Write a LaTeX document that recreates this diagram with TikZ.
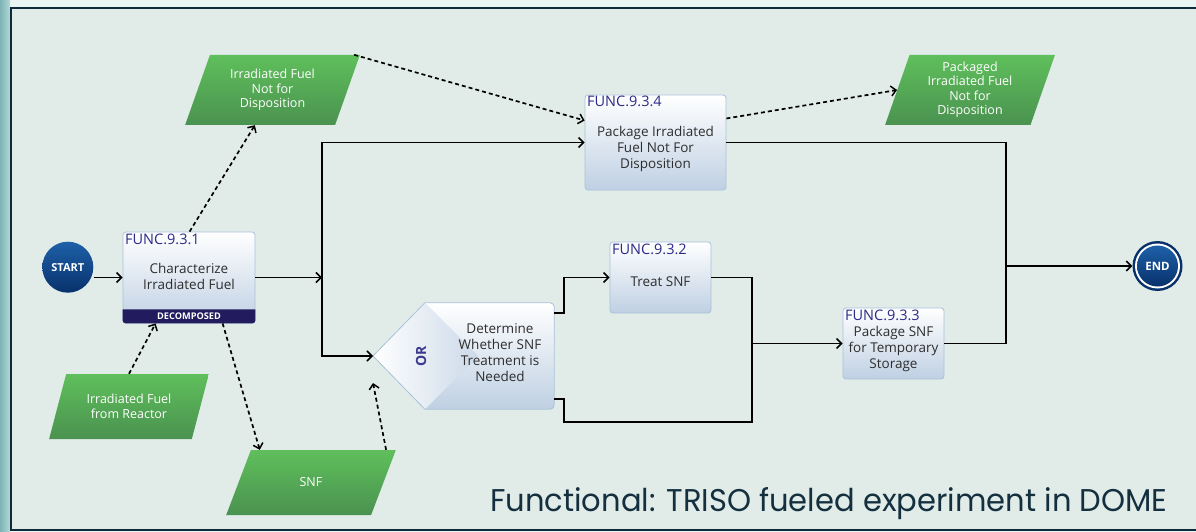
\documentclass[tikz,border=0pt]{standalone}
\usepackage{fontspec}
\usepackage{graphicx}
\setmainfont{Open Sans}
\newfontfamily\capfont{Poppins}
\usetikzlibrary{shapes.geometric,arrows.meta,calc}
\definecolor{innerbg}{HTML}{E1ECE9}
\definecolor{outerbg}{HTML}{E8F5F3}
\definecolor{tealA}{HTML}{7DB3B5}
\definecolor{tealB}{HTML}{B3D8D6}
\definecolor{framecol}{HTML}{0E2B3A}
\definecolor{boxbot}{HTML}{BFD0E3}
\definecolor{boxline}{HTML}{A9C1D9}
\definecolor{boxtext}{HTML}{2E2E2E}
\definecolor{funccol}{HTML}{2D2A88}
\definecolor{decocol}{HTML}{221C5E}
\definecolor{gtop}{HTML}{5FBF5B}
\definecolor{gbot}{HTML}{4A9250}
\definecolor{startTop}{HTML}{1E60A8}
\definecolor{startBot}{HTML}{08316B}
\definecolor{capcol}{HTML}{14303F}
\definecolor{orcol}{HTML}{3B3A8E}
\begin{document}
\begin{tikzpicture}[x=1pt,y=-1pt,
 fbox/.style={draw=boxline, line width=0.8pt, rounded corners=3pt, top color=white, bottom color=boxbot, inner sep=0pt},
 btext/.style={align=center, text=boxtext, font=\fontsize{13.5}{16}\selectfont, inner sep=0pt},
 flabel/.style={anchor=base west, text=funccol, font=\fontsize{14.5}{15}\selectfont, inner sep=0pt},
 gdata/.style={trapezium, trapezium stretches=true, top color=gtop, bottom color=gbot, inner sep=0pt, text=white, align=center, font=\fontsize{12.5}{14.5}\selectfont},
 ln/.style={line width=1.5pt, black},
 arr/.style={ln, -{Straight Barb[length=5pt,width=10pt,line width=1.5pt]}},
 darr/.style={line width=1.7pt, dash pattern=on 4pt off 3pt, -{Straight Barb[length=5pt,width=10pt,line width=1.5pt]}},
]
\useasboundingbox (0,0) rectangle (1196,532);
% background and frame
\fill[outerbg] (0,0) rectangle (1196,532);
\shade[left color=tealA, right color=tealB] (0,0) rectangle (10,532);
\fill[innerbg] (11,8) rectangle (1200,530);
\draw[framecol, line width=2.5pt] (1200,8) -- (11,8) -- (11,530) -- (1200,530);

% start
\node[circle, minimum size=51pt, inner sep=0pt, top color=startTop, bottom color=startBot] (start) at (67.8,267.2) {};
\node[text=white, font=\bfseries\fontsize{11}{11}\selectfont, inner sep=0pt] (startt) at (start.center) {START};

% FUNC.9.3.1
\node[fbox, minimum width=132pt, minimum height=91pt] (f1) at (189,277.5) {};
\fill[decocol] ($(f1.south west)+(0,-14)$) -- ($(f1.south east)+(0,-14)$) [rounded corners=3pt] -- (f1.south east) -- (f1.south west) [sharp corners] -- cycle;
\node[text=white, font=\bfseries\fontsize{9.2}{9}\selectfont, inner sep=0pt] (deco) at ($(f1.south)+(0,-7)$) {DECOMPOSED};
\node[btext] (f1t) at (189,276) {Characterize\\Irradiated Fuel};
\node[flabel] (f1l) at (125,244) {FUNC.9.3.1};

% FUNC.9.3.4
\node[fbox, minimum width=141pt, minimum height=95pt] (f4) at (655.5,142.5) {};
\node[btext, font=\fontsize{13.5}{16.3}\selectfont] (f4t) at (655.5,149) {Package Irradiated\\Fuel Not For\\Disposition};
\node[flabel] (f4l) at (587,107) {FUNC.9.3.4};

% FUNC.9.3.2
\node[fbox, minimum width=101pt, minimum height=71pt] (f2) at (660.5,277.5) {};
\node[btext] (f2t) at (660.5,282) {Treat SNF};
\node[flabel] (f2l) at (612,254) {FUNC.9.3.2};

% FUNC.9.3.3
\node[fbox, minimum width=101pt, minimum height=71pt] (f3) at (893.5,343.5) {};
\node[btext] (f3t) at (893.5,349) {Package SNF\\for Temporary\\Storage};
\node[flabel] (f3l) at (845,320) {FUNC.9.3.3};

% OR node
\node[minimum width=129pt, minimum height=106pt, inner sep=0pt] (or) at (489.5,356) {};
\coordinate (ortip) at (373,356);
\shade[top color=white, bottom color=boxbot] (ortip) -- (or.north west) [rounded corners=4pt] -- (or.north east) -- (or.south east) [sharp corners] -- (or.south west) -- cycle;
\shade[left color=white, right color=boxbot!80] (ortip) -- (or.north west) -- (478,356) -- (or.south west) -- cycle;
\draw[boxline, line width=0.8pt] (ortip) -- (or.north west) [rounded corners=4pt] -- (or.north east) -- (or.south east) [sharp corners] -- (or.south west) -- cycle;
\node[rotate=90, text=orcol, font=\bfseries\fontsize{14}{14}\selectfont, inner sep=0pt] (ort) at (421,356) {OR};
\node[btext] (ortx) at (500,353) {Determine\\Whether SNF\\Treatment is\\Needed};

% data items
\node[gdata, minimum width=175pt, minimum height=70pt, trapezium left angle=68, trapezium right angle=112] (nfd) at (272.5,90) {Irradiated Fuel\\Not for\\Disposition};
\node[gdata, minimum width=170pt, minimum height=70pt, trapezium left angle=73, trapezium right angle=107] (pkg) at (970,90) {Packaged\\Irradiated Fuel\\Not for\\Disposition};
\node[gdata, minimum width=160pt, minimum height=65pt, trapezium left angle=64.5, trapezium right angle=115.5] (rea) at (129,406.5) {Irradiated Fuel\\from Reactor};
\node[gdata, minimum width=170pt, minimum height=65pt, trapezium left angle=63, trapezium right angle=117] (snf) at (311,482.5) {SNF};

% end
\node[circle, minimum size=50pt, inner sep=0pt, fill=startBot] (endn) at (1157.5,266) {};
\fill[white] (endn.center) circle[radius=22.5pt];
\shade[top color=startTop, bottom color=startBot] (endn.center) circle[radius=20.5pt];
\node[text=white, font=\bfseries\fontsize{11.5}{11}\selectfont, inner sep=0pt] (endt) at (endn.center) {END};

% solid connectors
\draw[arr] (start.east |- f1.west) -- (f1.west);
\coordinate (j1) at (322,277.5);
\draw[arr] (f1.east) -- (j1);
\draw[arr] (j1) |- (f4.west);
\draw[arr] (j1) |- (ortip);
\draw[arr] ($(or.north east)+(0,10)$) -- ++(10,0) |- (f2.west);
\coordinate (j2) at (752,343.5);
\draw[ln] ($(or.south east)+(0,-10)$) -- ++(10,0) -- ++(0,23) -| (j2);
\draw[ln] (f2.east) -| (j2);
\draw[arr] (j2) -- (f3.west);
\coordinate (j3) at (1006,266);
\draw[ln] (f3.east) -| (j3);
\draw[ln] (f4.east) -| (j3);
\draw[arr] (j3) -- (endn);

% dashed connectors
\draw[darr] ($(f1.north west)+(67,0)$) -- ($(nfd.bottom left corner)+(70,0)$);
\draw[darr] ($(nfd.top right corner)+(-6,0)$) -- ($(f4.west)+(0,-22)$);
\draw[darr] ($(f4.east)+(0,-24)$) -- (pkg.west);
\draw[darr] (rea.north) -- ($(f1.south west)+(33,0)$);
\draw[darr] ($(f1.south west)+(100,0)$) -- ($(snf.top left corner)+(9,0)$);
\draw[darr] ($(snf.top right corner)+(-10,0)$) -- ($(ortip)+(0,27)$);

% caption
\node[anchor=base west, inner sep=0pt, text=capcol] (cap) at (490,511) {\resizebox{677pt}{24pt}{\capfont Functional: TRISO fueled experiment in DOME}};
\end{tikzpicture}
\end{document}
